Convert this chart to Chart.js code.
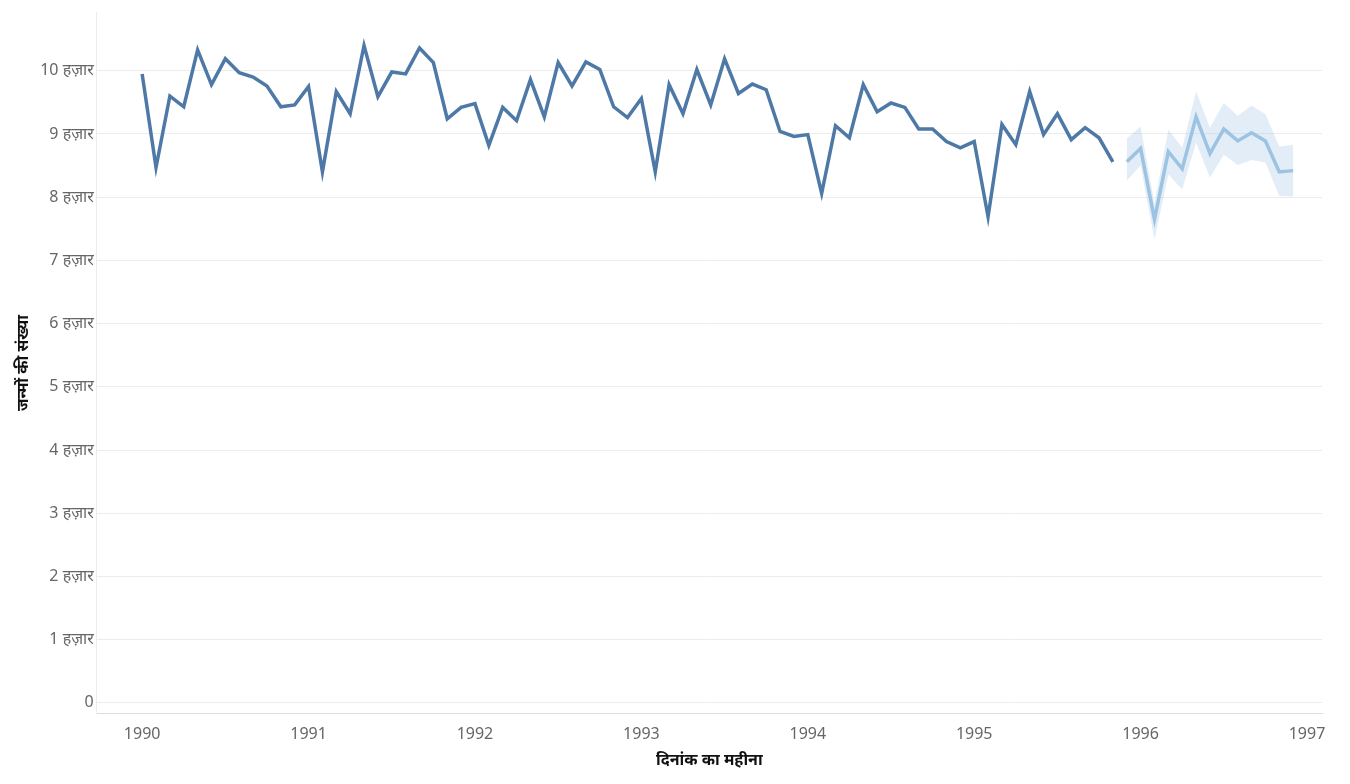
<!DOCTYPE html>
<html><head><meta charset="utf-8">
<script src="https://cdn.jsdelivr.net/npm/chart.js@4/dist/chart.umd.min.js"></script>
<style>html,body{margin:0;padding:0;background:#fff}#w{width:1350px;height:784px}</style>
</head><body><div id="w"><canvas id="c"></canvas></div>
<script>
const actualStart = 1990;
const actual = [9950,8470,9600,9430,10330,9780,10190,9970,9900,9760,9430,9460,
9750,8400,9670,9320,10400,9590,9980,9950,10360,10130,9240,9420,
9480,8820,9420,9210,9860,9270,10130,9760,10140,10020,9430,9260,
9560,8400,9780,9320,10020,9460,10190,9640,9790,9700,9040,8960,
8990,8060,9130,8940,9780,9350,9490,9420,9080,9080,8880,8780,
8880,7690,9150,8830,9670,8990,9320,8910,9100,8940,8560];
const forecastStart = 1995 + 11/12;
const forecast = [8560,8770,7650,8720,8450,9270,8690,9080,8890,9020,8890,8400,8420];
const upper = [8930,9120,7900,9070,8780,9670,9100,9490,9290,9450,9310,8800,8830];
const lower = [8260,8500,7330,8360,8120,8860,8310,8670,8510,8590,8550,8020,8010];
const yTicks = [0,1000,2000,3000,4000,5000,6000,7000,8000,9000,10000];
const xTicks = [1990,1991,1992,1993,1994,1995,1996,1997];

const pts = (arr, s) => arr.map((v,i)=>({x:s+i/12,y:v}));
const font = {family:'"Noto Sans", sans-serif', size:16};
new Chart(document.getElementById('c'),{
 type:'line',
 data:{datasets:[
  {data:pts(actual,actualStart),borderColor:'#4e79a7',borderWidth:3.5,pointRadius:0,tension:0,fill:false},
  {data:pts(forecast,forecastStart),borderColor:'#9dc3e3',borderWidth:3.5,pointRadius:0,tension:0,fill:false},
  {data:pts(upper,forecastStart),borderWidth:0,pointRadius:0,tension:0,fill:'+1',backgroundColor:'rgba(160,196,230,0.3)'},
  {data:pts(lower,forecastStart),borderWidth:0,pointRadius:0,tension:0,fill:false}
 ]},
 options:{responsive:true,maintainAspectRatio:false,animation:false,
  layout:{padding:{left:10,right:28,top:5,bottom:10}},
  plugins:{legend:{display:false},tooltip:{enabled:false}},
  scales:{
   x:{type:'linear',min:1989.727,max:1997.09,
      afterBuildTicks:a=>{a.ticks=xTicks.map(v=>({value:v}));},
      ticks:{color:'#666',font:font,callback:v=>String(v)},
      grid:{display:false,drawTicks:true},
      border:{color:'#ddd',dash:[2,3]},
      title:{display:true,text:'दिनांक का महीना',color:'#111',font:{...font,weight:'bold'}}},
   y:{min:-170,max:10920,
      afterBuildTicks:a=>{a.ticks=yTicks.map(v=>({value:v}));},
      ticks:{color:'#666',font:font,callback:v=>v===0?'0':(v/1000)+' हज़ार'},
      grid:{color:'#ececec',drawTicks:false},
      border:{display:true,color:'#ececec'},
      title:{display:true,text:'जन्मों की संख्या',color:'#111',font:{...font,weight:'bold'}}}
  }}
});
</script></body></html>
